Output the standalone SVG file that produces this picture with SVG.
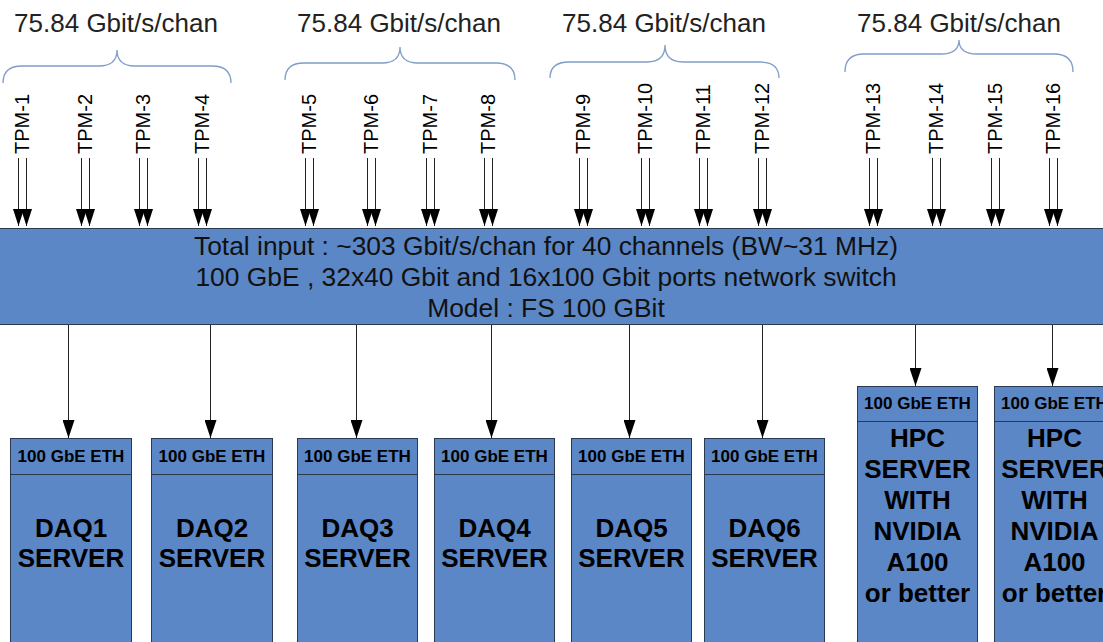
<svg xmlns="http://www.w3.org/2000/svg" width="1103" height="642" viewBox="0 0 1103 642">
  <style>
    .rate { font-family: "Liberation Sans", Arial, sans-serif; font-size: 26px; fill: #222; text-anchor: middle; }
    .brace { fill: none; stroke: #7f9dc8; stroke-width: 1.3; }
    .tpm { font-family: "Liberation Sans", Arial, sans-serif; font-size: 20px; fill: #000; }
    .feed { stroke: #222; stroke-width: 1; fill: none; }
    .box { fill: #5b87c6; stroke: #2b3a4f; stroke-width: 1; }
    .sw { font-family: "Liberation Sans", Arial, sans-serif; font-size: 26.4px; fill: #111; text-anchor: middle; }
    .eth { font-family: "Liberation Sans", Arial, sans-serif; font-size: 17px; font-weight: bold; fill: #000; text-anchor: middle; }
    .srv { font-family: "Liberation Sans", Arial, sans-serif; font-size: 26px; font-weight: bold; fill: #000; text-anchor: middle; }
  </style>
  <defs>
    <marker id="headS" markerUnits="userSpaceOnUse" markerWidth="17" markerHeight="11" viewBox="0 0 17 11" refX="17" refY="5.5" orient="auto">
      <path d="M0,0 L17,5.5 L0,11 z" fill="#000"/>
    </marker>
    <marker id="headL" markerUnits="userSpaceOnUse" markerWidth="18" markerHeight="12" viewBox="0 0 18 12" refX="18" refY="6" orient="auto">
      <path d="M0,0 L18,6 L0,12 z" fill="#000"/>
    </marker>
  </defs>

  <!-- per-group channel rates -->
  <g id="rates">
    <text class="rate" x="116" y="32">75.84 Gbit/s/chan</text>
    <text class="rate" x="399" y="32">75.84 Gbit/s/chan</text>
    <text class="rate" x="664" y="32">75.84 Gbit/s/chan</text>
    <text class="rate" x="959" y="32">75.84 Gbit/s/chan</text>
  </g>

  <!-- braces grouping four TPMs each -->
  <g id="braces">
    <path class="brace" d="M3,83 Q3,66 22,66 L99,66 Q117,66 117,50 Q117,66 135,66 L212,66 Q231,66 231,83"/>
    <path class="brace" d="M285,80 Q285,63 304,63 L382,63 Q400,63 400,47 Q400,63 418,63 L496,63 Q515,63 515,80"/>
    <path class="brace" d="M550,78 Q550,62 569,62 L647,62 Q665,62 665,45 Q665,62 683,62 L760,62 Q779,62 779,78"/>
    <path class="brace" d="M845,72 Q845,54 864,54 L941,54 Q959,54 959,40 Q959,54 977,54 L1054,54 Q1073,54 1073,72"/>
  </g>

  <!-- TPM labels -->
  <g id="tpm-labels">
    <text class="tpm" transform="translate(29,154) rotate(-90)">TPM-1</text>
    <text class="tpm" transform="translate(92,154) rotate(-90)">TPM-2</text>
    <text class="tpm" transform="translate(150,154) rotate(-90)">TPM-3</text>
    <text class="tpm" transform="translate(209,154) rotate(-90)">TPM-4</text>
    <text class="tpm" transform="translate(316,154) rotate(-90)">TPM-5</text>
    <text class="tpm" transform="translate(378,154) rotate(-90)">TPM-6</text>
    <text class="tpm" transform="translate(437,154) rotate(-90)">TPM-7</text>
    <text class="tpm" transform="translate(495,154) rotate(-90)">TPM-8</text>
    <text class="tpm" transform="translate(590,154) rotate(-90)">TPM-9</text>
    <text class="tpm" transform="translate(652,154) rotate(-90)">TPM-10</text>
    <text class="tpm" transform="translate(710,154) rotate(-90)">TPM-11</text>
    <text class="tpm" transform="translate(769,154) rotate(-90)">TPM-12</text>
    <text class="tpm" transform="translate(880,154) rotate(-90)">TPM-13</text>
    <text class="tpm" transform="translate(943,154) rotate(-90)">TPM-14</text>
    <text class="tpm" transform="translate(1002,154) rotate(-90)">TPM-15</text>
    <text class="tpm" transform="translate(1060,154) rotate(-90)">TPM-16</text>
  </g>

  <!-- network switch -->
  <g id="switch">
    <rect class="box" x="-2" y="228.5" width="1108" height="96"/>
    <text class="sw" x="546" y="255">Total input : ~303 Gbit/s/chan for 40 channels (BW~31 MHz)</text>
    <text class="sw" x="546" y="286">100 GbE , 32x40 Gbit and 16x100 Gbit ports network switch</text>
    <text class="sw" x="546" y="317">Model : FS 100 GBit</text>
  </g>

  <!-- DAQ servers -->
  <g id="daq1">
    <rect class="box" x="10.5" y="438.5" width="121" height="220"/>
    <line class="box" x1="10.5" y1="474.5" x2="131.5" y2="474.5"/>
    <text class="eth" x="71" y="462">100 GbE ETH</text>
    <text class="srv" x="71" y="537">DAQ1</text>
    <text class="srv" x="71" y="567">SERVER</text>
  </g>
  <g id="daq2">
    <rect class="box" x="151.5" y="438.5" width="121" height="220"/>
    <line class="box" x1="151.5" y1="474.5" x2="272.5" y2="474.5"/>
    <text class="eth" x="212" y="462">100 GbE ETH</text>
    <text class="srv" x="212" y="537">DAQ2</text>
    <text class="srv" x="212" y="567">SERVER</text>
  </g>
  <g id="daq3">
    <rect class="box" x="297.5" y="438.5" width="120" height="220"/>
    <line class="box" x1="297.5" y1="474.5" x2="417.5" y2="474.5"/>
    <text class="eth" x="357.5" y="462">100 GbE ETH</text>
    <text class="srv" x="357.5" y="537">DAQ3</text>
    <text class="srv" x="357.5" y="567">SERVER</text>
  </g>
  <g id="daq4">
    <rect class="box" x="434.5" y="438.5" width="120" height="220"/>
    <line class="box" x1="434.5" y1="474.5" x2="554.5" y2="474.5"/>
    <text class="eth" x="494.5" y="462">100 GbE ETH</text>
    <text class="srv" x="494.5" y="537">DAQ4</text>
    <text class="srv" x="494.5" y="567">SERVER</text>
  </g>
  <g id="daq5">
    <rect class="box" x="571.5" y="438.5" width="120" height="220"/>
    <line class="box" x1="571.5" y1="474.5" x2="691.5" y2="474.5"/>
    <text class="eth" x="631.5" y="462">100 GbE ETH</text>
    <text class="srv" x="631.5" y="537">DAQ5</text>
    <text class="srv" x="631.5" y="567">SERVER</text>
  </g>
  <g id="daq6">
    <rect class="box" x="704.5" y="438.5" width="120" height="220"/>
    <line class="box" x1="704.5" y1="474.5" x2="824.5" y2="474.5"/>
    <text class="eth" x="764.5" y="462">100 GbE ETH</text>
    <text class="srv" x="764.5" y="537">DAQ6</text>
    <text class="srv" x="764.5" y="567">SERVER</text>
  </g>

  <!-- GPU compute servers -->
  <g id="hpc1">
    <rect class="box" x="857.5" y="386.5" width="120" height="272"/>
    <line class="box" x1="857.5" y1="421.5" x2="977.5" y2="421.5"/>
    <text class="eth" x="917.5" y="409">100 GbE ETH</text>
    <text class="srv" x="917.5" y="447">HPC</text>
    <text class="srv" x="917.5" y="478">SERVER</text>
    <text class="srv" x="917.5" y="509">WITH</text>
    <text class="srv" x="917.5" y="540">NVIDIA</text>
    <text class="srv" x="917.5" y="571">A100</text>
    <text class="srv" x="917.5" y="602">or better</text>
  </g>
  <g id="hpc2">
    <rect class="box" x="994.5" y="386.5" width="120" height="272"/>
    <line class="box" x1="994.5" y1="421.5" x2="1114.5" y2="421.5"/>
    <text class="eth" x="1054.5" y="409">100 GbE ETH</text>
    <text class="srv" x="1054.5" y="447">HPC</text>
    <text class="srv" x="1054.5" y="478">SERVER</text>
    <text class="srv" x="1054.5" y="509">WITH</text>
    <text class="srv" x="1054.5" y="540">NVIDIA</text>
    <text class="srv" x="1054.5" y="571">A100</text>
    <text class="srv" x="1054.5" y="602">or better</text>
  </g>

  <!-- connectors -->
  <g id="connectors">
    <!-- dual TPM links into the switch -->
    <g marker-end="url(#headS)" class="feed">
      <line x1="18.5" y1="158" x2="18.5" y2="226"/><line x1="26.5" y1="158" x2="26.5" y2="226"/>
      <line x1="81.5" y1="158" x2="81.5" y2="226"/><line x1="89.5" y1="158" x2="89.5" y2="226"/>
      <line x1="139.5" y1="158" x2="139.5" y2="226"/><line x1="147.5" y1="158" x2="147.5" y2="226"/>
      <line x1="198.5" y1="158" x2="198.5" y2="226"/><line x1="206.5" y1="158" x2="206.5" y2="226"/>
      <line x1="305.5" y1="158" x2="305.5" y2="226"/><line x1="313.5" y1="158" x2="313.5" y2="226"/>
      <line x1="367.5" y1="158" x2="367.5" y2="226"/><line x1="375.5" y1="158" x2="375.5" y2="226"/>
      <line x1="426.5" y1="158" x2="426.5" y2="226"/><line x1="434.5" y1="158" x2="434.5" y2="226"/>
      <line x1="484.5" y1="158" x2="484.5" y2="226"/><line x1="492.5" y1="158" x2="492.5" y2="226"/>
      <line x1="579.5" y1="158" x2="579.5" y2="226"/><line x1="587.5" y1="158" x2="587.5" y2="226"/>
      <line x1="641.5" y1="158" x2="641.5" y2="226"/><line x1="649.5" y1="158" x2="649.5" y2="226"/>
      <line x1="699.5" y1="158" x2="699.5" y2="226"/><line x1="707.5" y1="158" x2="707.5" y2="226"/>
      <line x1="758.5" y1="158" x2="758.5" y2="226"/><line x1="766.5" y1="158" x2="766.5" y2="226"/>
      <line x1="869.5" y1="158" x2="869.5" y2="226"/><line x1="877.5" y1="158" x2="877.5" y2="226"/>
      <line x1="932.5" y1="158" x2="932.5" y2="226"/><line x1="940.5" y1="158" x2="940.5" y2="226"/>
      <line x1="991.5" y1="158" x2="991.5" y2="226"/><line x1="999.5" y1="158" x2="999.5" y2="226"/>
      <line x1="1049.5" y1="158" x2="1049.5" y2="226"/><line x1="1057.5" y1="158" x2="1057.5" y2="226"/>
    </g>
    <!-- switch to servers -->
    <g marker-end="url(#headL)" class="feed">
      <line x1="68.5" y1="325" x2="68.5" y2="438"/>
      <line x1="210.5" y1="325" x2="210.5" y2="438"/>
      <line x1="356.5" y1="325" x2="356.5" y2="438"/>
      <line x1="491.5" y1="325" x2="491.5" y2="438"/>
      <line x1="629.5" y1="325" x2="629.5" y2="438"/>
      <line x1="762.5" y1="325" x2="762.5" y2="438"/>
      <line x1="915.5" y1="325" x2="915.5" y2="386"/>
      <line x1="1052.5" y1="325" x2="1052.5" y2="386"/>
    </g>
  </g>
</svg>
